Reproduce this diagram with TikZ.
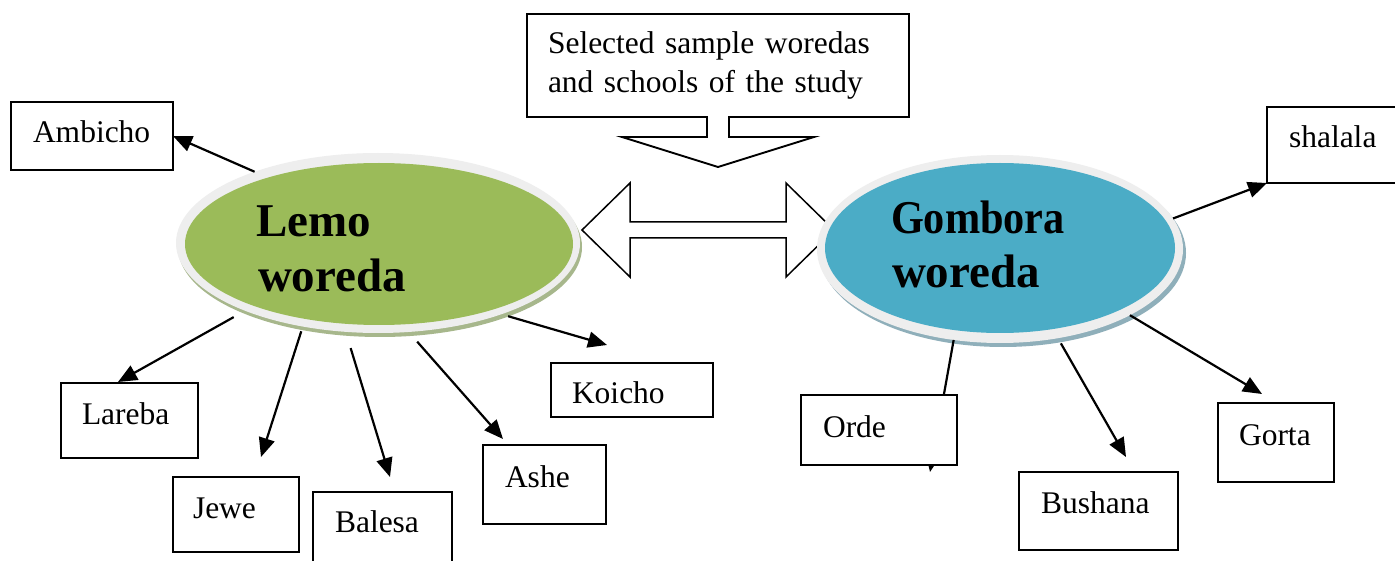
\documentclass[tikz,border=0pt]{standalone}
\usepackage{fontspec}
\setmainfont{Liberation Serif}
\usetikzlibrary{arrows.meta,shapes.geometric,calc}
\definecolor{lemogreen}{HTML}{9BBB59}
\definecolor{lemoshadow}{HTML}{A7B78C}
\definecolor{gomblue}{HTML}{4BACC6}
\definecolor{gombshadow}{HTML}{8FAFBA}
\definecolor{ringgray}{HTML}{EEEEEE}
\newcommand{\lblfont}{\fontsize{31.5}{38.4}\selectfont}
\newcommand{\bigfont}{\fontsize{47}{55}\selectfont\bfseries}
\begin{document}
\begin{tikzpicture}[x=1pt,y=-1pt,
  box/.style={draw, fill=white, line width=1.9pt, inner sep=0pt, outer sep=0pt, anchor=north west},
  lbl/.style={inner sep=0pt, outer sep=0pt, anchor=base west, font=\lblfont},
  big/.style={inner sep=0pt, outer sep=0pt, anchor=base west, font=\bigfont},
  conn/.style={draw, line width=2.2pt, -{Triangle[length=19pt,width=16pt]}},
  oval/.style={ellipse, inner sep=0pt, outer sep=0pt},
  blockarrow/.style={draw, fill=white, line width=1.5pt, line join=miter}]
\useasboundingbox (0,0) rectangle (1395,561);
\clip (0,0) rectangle (1395,561);
\fill[white] (0,0) rectangle (1395,561);

% double block arrow between the woredas
\draw[blockarrow] (582,230) -- (630,183) -- (630,222) -- (786,222) -- (786,183)
  -- (834,230) -- (786,277) -- (786,238) -- (630,238) -- (630,277) -- cycle;

% callout box
\node[anchor=north west, minimum width=382pt, minimum height=103pt, text width=340pt,
  inner xsep=21pt, inner ysep=0pt, outer sep=0pt, align=left, font=\lblfont] (sel) at (527,14)
  {Selected sample woredas\\and schools of the study};
\draw[line width=1.9pt, line join=miter] ($(sel.south)+(-11,0)$) -- (sel.south west) -- (sel.north west)
  -- (sel.north east) -- (sel.south east) -- ($(sel.south)+(11,0)$) -- ($(sel.south)+(11,20)$)
  -- ($(sel.south)+(96,20)$) -- ($(sel.south)+(0,50)$) -- ($(sel.south)+(-96,20)$)
  -- ($(sel.south)+(-11,20)$) -- cycle;

% ellipses
\node[oval, fill=lemoshadow, minimum width=404pt, minimum height=180pt] (lemoS) at (380,247) {};
\node[oval, fill=ringgray, minimum width=404pt, minimum height=180pt] (lemo) at (378,243) {};
\node[oval, fill=lemogreen, minimum width=388pt, minimum height=162pt] (lemoIn) at (379,244) {};
\node[big] (lemoT1) at (256,237) {Lemo};
\node[big] (lemoT2) at (258,292) {woreda};

\node[oval, fill=gombshadow, minimum width=366pt, minimum height=188pt] (gombS) at (1003,253) {};
\node[oval, fill=ringgray, minimum width=366pt, minimum height=188pt] (gomb) at (1000,249) {};
\node[oval, fill=gomblue, minimum width=350pt, minimum height=170pt] (gombIn) at (1000,248) {};
\node[big] (gombT1) at (891,234) {\scalebox{0.9}[1]{Gombora}};
\node[big] (gombT2) at (892,288) {woreda};

% free arrow ends
\coordinate (larebaTip) at (118,382);
\coordinate (jeweTip) at (261,457);
\coordinate (balesaTip) at (390,477);
\coordinate (asheTip) at (503,439);
\coordinate (koichoTip) at (607,345);
\coordinate (ordeTip) at (930,472);
\coordinate (bushanaTip) at (1126,457);
\coordinate (gortaTip) at (1262,394);

% boxes
\node[box, minimum width=162pt, minimum height=68pt] (ambicho) at (11,102) {};
\node[box, minimum width=137pt, minimum height=75pt] (lareba) at (61,383) {};
\node[box, minimum width=126pt, minimum height=75pt] (jewe) at (173,477) {};
\node[box, minimum width=139pt, minimum height=110pt] (balesa) at (313,492) {};
\node[box, minimum width=123pt, minimum height=79pt] (ashe) at (483,445) {};
\node[box, minimum width=162pt, minimum height=54pt] (koicho) at (551,363) {};
\node[box, minimum width=159pt, minimum height=78pt] (bushana) at (1019,472) {};
\node[box, minimum width=116pt, minimum height=79pt] (gorta) at (1218,403) {};
\node[box, minimum width=160pt, minimum height=76pt] (shalala) at (1267,107) {};

% connectors
\draw[conn] (lemo.150) -- (ambicho.east);
\draw[conn, shorten <=13pt] (lemo.207) -- (larebaTip);
\draw[conn, shorten <=5pt] (lemo.228) -- (jeweTip);
\draw[conn, shorten <=17pt] (lemo.250) -- (balesaTip);
\draw[conn, shorten <=13pt] (lemo.289) -- (asheTip);
\draw[conn, shorten <=7pt] (lemo.330) -- (koichoTip);
\draw[conn] (gomb.10) -- (shalala.south west);
\draw[conn] (gomb.243) -- (ordeTip);
\draw[conn, shorten <=6pt] (gomb.303) -- (bushanaTip);
\draw[conn] (gomb.333) -- (gortaTip);

% Orde box covers its connector
\node[box, minimum width=156pt, minimum height=70pt] (orde) at (801,395) {};

% labels
\node[lbl] (ambichoT) at (33,143) {Ambicho};
\node[lbl] (larebaT) at (82,424) {Lareba};
\node[lbl] (jeweT) at (193,518) {Jewe};
\node[lbl] (balesaT) at (335,532) {Balesa};
\node[lbl] (asheT) at (505,487) {Ashe};
\node[lbl] (koichoT) at (572,403) {Koicho};
\node[lbl] (ordeT) at (823,437) {Orde};
\node[lbl] (bushanaT) at (1041,513) {Bushana};
\node[lbl] (gortaT) at (1239,445) {Gorta};
\node[lbl] (shalalaT) at (1289,148) {shalala};
\end{tikzpicture}
\end{document}
